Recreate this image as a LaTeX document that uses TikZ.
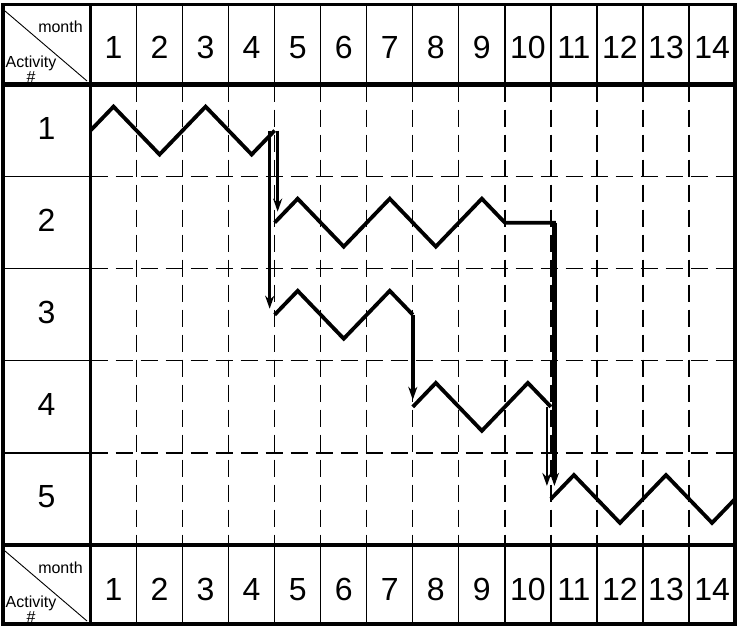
\documentclass[tikz,border=0pt]{standalone}
\usepackage{fontspec}
\setmainfont{Liberation Sans}
\usetikzlibrary{arrows.meta}
\begin{document}
\begin{tikzpicture}[x=1pt,y=-1pt,
  thickline/.style={line width=3.5pt},
  thinsolid/.style={line width=1.3pt},
  gridd/.style={line width=1.3pt, dash pattern=on 17pt off 8pt},
  zig/.style={line width=3.8pt, line join=miter},
  arr/.style={-{Stealth[length=13pt,width=9pt]}},
  num/.style={font=\fontsize{32}{35}\selectfont, inner sep=0pt, anchor=base},
  small/.style={font=\fontsize{16}{18}\selectfont, inner sep=0pt, anchor=base}]
\useasboundingbox (0,0) rectangle (746,626);
% grid
\foreach \k in {1,...,13} {
  \pgfmathsetmacro\xx{90.5+46.04*\k}
  \draw[thinsolid] (\xx,4) -- (\xx,84.5);
  \draw[gridd] (\xx,84.5) -- (\xx,545);
  \draw[thinsolid] (\xx,545) -- (\xx,624);
}
\foreach \r in {1,...,4} {
  \pgfmathsetmacro\yy{84.5+92.1*\r}
  \draw[thinsolid] (3,\yy) -- (90.5,\yy);
  \draw[gridd] (90.5,\yy) -- (735,\yy);
}
\draw[thickline] (3,4.5) rectangle (735,624);
\draw[thickline] (90.5,4.5) -- (90.5,624);
\draw[line width=4.5pt] (3,84.5) -- (735,84.5);
\draw[line width=4.5pt] (3,545) -- (735,545);
% corner headers
\coordinate (d1a) at (5,11); \coordinate (d1b) at (87,81);
\coordinate (d2a) at (5,551); \coordinate (d2b) at (87,621);
\draw[line width=0.9pt] (d1a) -- (d1b);
\draw[line width=0.9pt] (d2a) -- (d2b);
\node[small] (tm) at (60.5,33) {month};
\node[small] (ta) at (31,67) {Activity};
\node[small] (th) at (31,82) {\#};
\node[small] (bm) at (60.5,573) {month};
\node[small] (ba) at (31,607) {Activity};
\node[small] (bh) at (31,622) {\#};
% month numbers
\foreach \k in {1,...,14} {
  \pgfmathsetmacro\xx{90.5+46.04*(\k-0.5)}
  \node[num] (h\k) at (\xx,59) {\k};
  \node[num] (b\k) at (\xx,600.5) {\k};
}
% activity numbers
\foreach \r in {1,...,5} {
  \pgfmathsetmacro\yy{84.5+92.1*(\r-0.5)+8.5}
  \node[num] (a\r) at (46.5,\yy) {\r};
}
% schedule
\begin{scope}[shift={(90.5,84.5)}, x=46.04pt, y={(0,-92.1pt)}]
\coordinate (r1s) at (0,0.5);  \coordinate (r1e) at (4,0.5);
\coordinate (r2s) at (4,1.5);  \coordinate (r2e) at (10,1.5);
\coordinate (r3s) at (4,2.5);  \coordinate (r3e) at (7,2.5);
\coordinate (r4s) at (7,3.5);  \coordinate (r4e) at (10,3.5);
\coordinate (r5s) at (10,4.5); \coordinate (r5e) at (14,4.5);
\draw[zig] (r1s) -- (0.5,0.24) -- (1.5,0.76) -- (2.5,0.24) -- (3.5,0.76) -- (r1e);
\draw[zig] (r2s) -- (4.5,1.24) -- (5.5,1.76) -- (6.5,1.24) -- (7.5,1.76) -- (8.5,1.24) -- (9,1.5) -- ([xshift=5pt]r2e);
\draw[zig] (r3s) -- (4.5,2.24) -- (5.5,2.76) -- (6.5,2.24) -- (r3e);
\draw[zig] (r4s) -- (7.5,3.24) -- (8.5,3.76) -- (9.5,3.24) -- (r4e);
\draw[zig] (r5s) -- (10.5,4.24) -- (11.5,4.76) -- (12.5,4.24) -- (13.5,4.76) -- (r5e);
\draw[arr, line width=3.5pt] ([xshift=3pt]r1e) -- ([xshift=3pt,yshift=11pt]r2s);
\draw[arr, line width=2.5pt] ([xshift=-5pt]r1e) -- ([xshift=-5pt,yshift=6pt]r3s);
\draw[arr, line width=3.5pt] (r3e) -- ([yshift=7pt]r4s);
\draw[arr, line width=4.5pt] ([xshift=3.5pt]r2e) -- ([xshift=3.5pt,yshift=13pt]r5s);
\draw[arr, line width=2.5pt] ([xshift=-4pt]r4e) -- ([xshift=-4pt,yshift=13pt]r5s);
\end{scope}
\end{tikzpicture}
\end{document}
